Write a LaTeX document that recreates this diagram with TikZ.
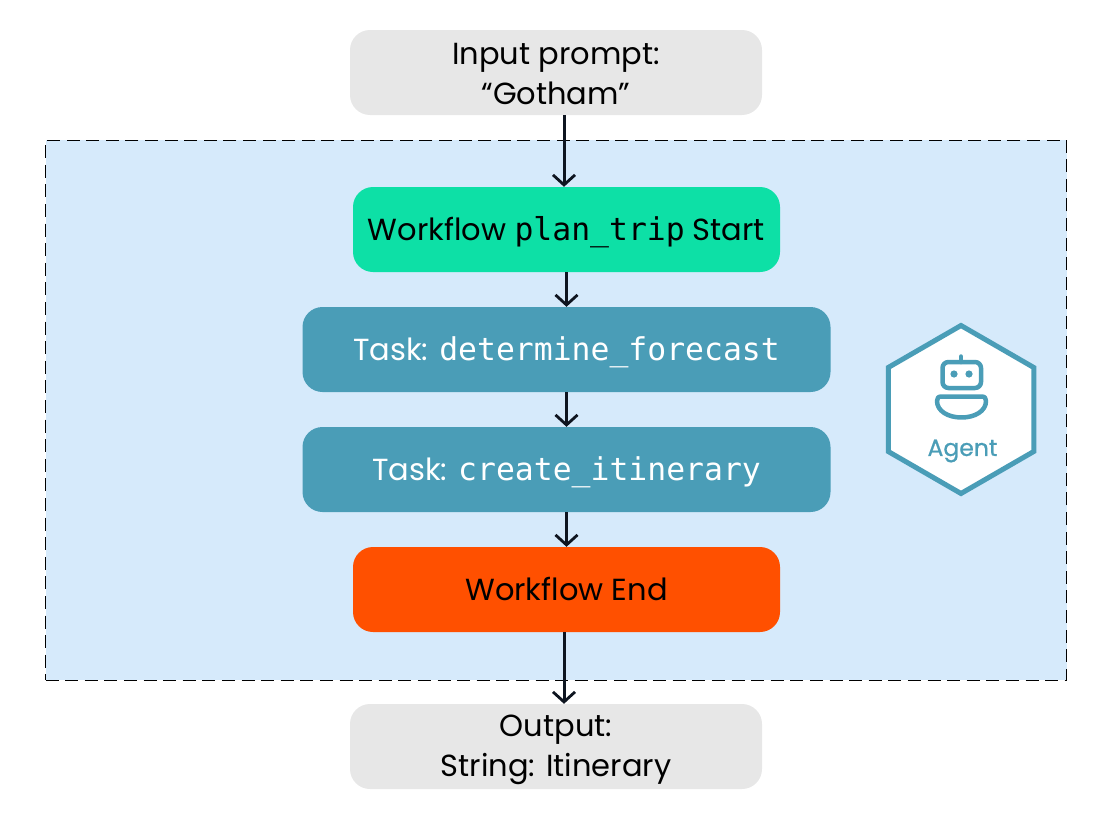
\documentclass[tikz,border=0pt]{standalone}
\usepackage{fontspec}
\setmainfont{Poppins}
\setmonofont[Scale=1.03]{DejaVu Sans Mono}
\newfontfamily\agentfont[FakeBold=0.8]{Poppins}
\usetikzlibrary{arrows.meta, shapes.geometric}
\definecolor{frameblue}{HTML}{D6EAFB}
\definecolor{boxgrey}{HTML}{E7E7E7}
\definecolor{startgreen}{HTML}{0DE0A6}
\definecolor{taskteal}{HTML}{4A9DB7}
\definecolor{endorange}{HTML}{FF5000}
\definecolor{inkdark}{HTML}{0E1520}
\newcommand\iostrut{\rule[-4.5pt]{0pt}{32pt}}
\tikzset{
  box/.style={rectangle, rounded corners=20pt, minimum height=85pt, align=center, inner sep=0pt, text=black, font=\fontsize{30.5}{40}\selectfont},
  oneline/.style={text height=24.5pt, text depth=3.5pt},
  iobox/.style={box, fill=boxgrey, minimum width=412pt},
  wfbox/.style={box, oneline, minimum width=427pt},
  taskbox/.style={box, oneline, fill=taskteal, minimum width=528pt, text=white},
  flow/.style={-{Straight Barb[length=10pt,width=22pt,line width=2.8pt]}, line width=3pt, color=inkdark},
  robot/.style={draw=taskteal, line width=4.5pt, line join=round}
}
\begin{document}
\begin{tikzpicture}[x=1pt, y=-1pt, node distance=120pt]
\useasboundingbox (0,0) rectangle (1112,819);
\node[draw, dash pattern=on 13pt off 6.6pt, line width=1pt, fill=frameblue, minimum width=1021pt, minimum height=540pt, inner sep=0pt] (frame) at (556,410) {};
\node[iobox] (input) at (556,72.5) {\iostrut Input prompt:\\\iostrut “Gotham”};
\node[wfbox, fill=startgreen] (start) at (566.5,229.5) {Workflow \texttt{plan\_trip} Start};
\node[taskbox, below of=start] (forecast) {Task: \texttt{determine\_forecast}};
\node[taskbox, below of=forecast] (itinerary) {Task: \texttt{create\_itinerary}};
\node[wfbox, fill=endorange, below of=itinerary] (end) {Workflow End};
\node[iobox] (output) at (556,746.5) {\iostrut Output:\\\iostrut String: Itinerary};

% agent badge
\node[draw=taskteal, fill=white, line width=5pt, regular polygon, regular polygon sides=6, shape border rotate=30, minimum size=168pt, inner sep=0pt] (agent) at (961,409.5) {};
\node[text=taskteal, font=\agentfont\fontsize{23.5}{26}\selectfont, inner sep=0pt] (agentlabel) at (962.5,451) {Agent};
\draw[robot, rounded corners=6pt] (942.5,362) rectangle (981,388);
\draw[robot, line cap=round] (961,362) -- (961,356.5);
\fill[taskteal] (954,374) circle (3.6pt) (969,374) circle (3.6pt);
\draw[robot] (942,396.5) -- (981,396.5) .. controls (985,396.5) and (986,398) .. (986,401) .. controls (986,411) and (975,417.5) .. (961.5,417.5) .. controls (948,417.5) and (937,411) .. (937,401) .. controls (937,398) and (938,396.5) .. (942,396.5) -- cycle;

% arrows
\draw [flow] ([xshift=8pt]input.south) -- ([xshift=-2.5pt]start.north);
\draw [flow] (start) -- (forecast);
\draw [flow] (forecast) -- (itinerary);
\draw [flow] (itinerary) -- (end);
\draw [flow] ([xshift=-2.5pt]end.south) -- ([xshift=8pt]output.north);
\end{tikzpicture}
\end{document}
